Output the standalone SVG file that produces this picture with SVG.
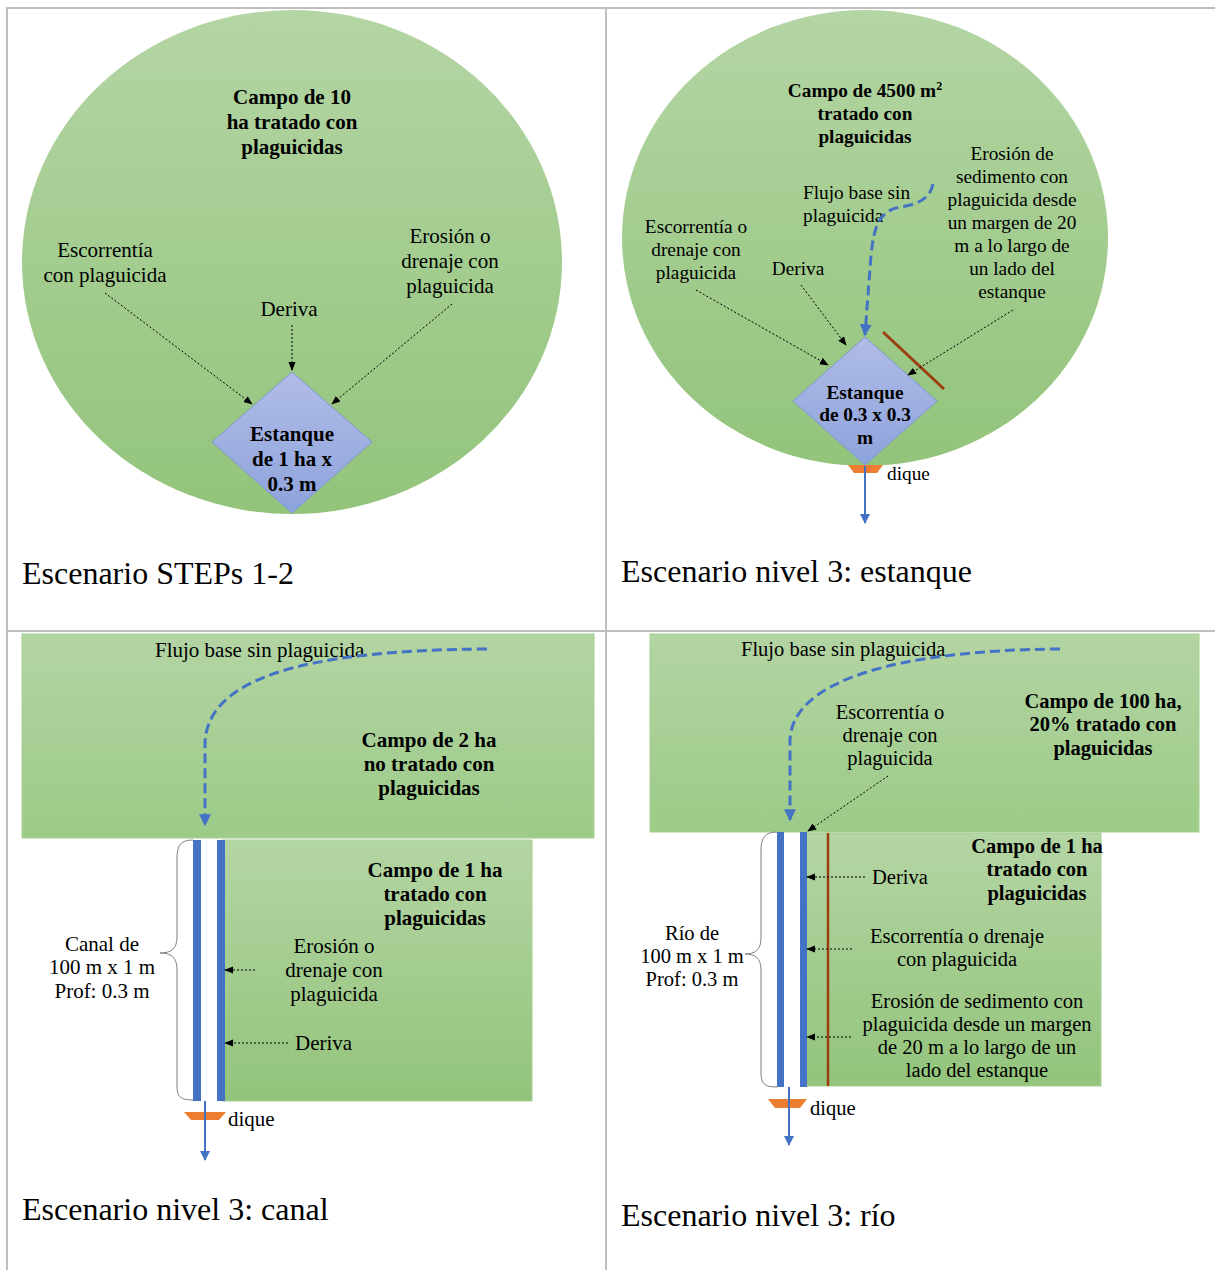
<svg xmlns="http://www.w3.org/2000/svg" width="1215" height="1270" viewBox="0 0 1215 1270">
  <defs>
    <linearGradient id="field" x1="0" y1="0" x2="0" y2="1">
      <stop offset="0" stop-color="#b4d5a4"/>
      <stop offset="1" stop-color="#93c47b"/>
    </linearGradient>
    <linearGradient id="fieldSoft" x1="0" y1="0" x2="0" y2="1">
      <stop offset="0" stop-color="#b3d4a3"/>
      <stop offset="1" stop-color="#9dcb88"/>
    </linearGradient>
    <linearGradient id="pond" x1="0" y1="0" x2="0" y2="1">
      <stop offset="0" stop-color="#b0bce6"/>
      <stop offset="1" stop-color="#8ea3dc"/>
    </linearGradient>
    <marker id="arrowBlue" viewBox="0 0 10 10" refX="9" refY="5" markerWidth="4" markerHeight="4" orient="auto" markerUnits="strokeWidth">
      <path d="M0,0 L10,5 L0,10 z" fill="#4472c4"/>
    </marker>
    <marker id="arrowBlueThin" viewBox="0 0 10 10" refX="9" refY="5" markerWidth="5" markerHeight="5" orient="auto" markerUnits="strokeWidth">
      <path d="M0,0 L10,5 L0,10 z" fill="#4472c4"/>
    </marker>
    <marker id="arrowBlack" viewBox="0 0 10 10" refX="9" refY="5" markerWidth="9" markerHeight="9" orient="auto" markerUnits="strokeWidth">
      <path d="M0,1 L10,5 L0,9 z" fill="#000"/>
    </marker>
  </defs>
  <style>
    .grid { stroke: #bfbfbf; stroke-width: 2; fill: none; }
    .fieldbox { stroke: #a6cf90; stroke-width: 1; }
    .pondshape { fill: url(#pond); stroke: #7f98d6; stroke-width: 1; }
    .t { font-family: "Liberation Serif", "Times New Roman", serif; fill: #000; }
    .c { text-anchor: middle; }
    .s1 { font-size: 21px; }
    .s2 { font-size: 19.3px; }
    .s3 { font-size: 21px; }
    .s4 { font-size: 20.5px; }
    .bold { font-weight: bold; }
    .cap { font-size: 32px; }
    .dot { stroke: #000; stroke-width: 1; stroke-dasharray: 2 2; fill: none; marker-end: url(#arrowBlack); }
    .flow { stroke: #4472c4; stroke-width: 3; stroke-dasharray: 10 5; fill: none; marker-end: url(#arrowBlue); }
    .outlet { stroke: #4472c4; stroke-width: 2; fill: none; marker-end: url(#arrowBlueThin); }
    .bank { fill: #4472c4; }
    .buffer { stroke: #9c3f0f; stroke-width: 3; fill: none; }
    .dike { fill: #ed7d31; }
    .brace { stroke: #7f7f7f; stroke-width: 1; fill: none; }
  </style>

  <!-- table grid -->
  <g id="table">
    <line class="grid" x1="6" y1="8" x2="1215" y2="8"/>
    <line class="grid" x1="7" y1="8" x2="7" y2="1270"/>
    <line class="grid" x1="606" y1="8" x2="606" y2="1270"/>
    <line class="grid" x1="6" y1="631" x2="1215" y2="631"/>
  </g>

  <!-- ===== Scenario STEPs 1-2 ===== -->
  <g id="field-steps">
    <ellipse cx="292" cy="262" rx="270" ry="252" fill="url(#field)"/>
    <text class="t s1 c bold" x="292" y="104">Campo de 10</text>
    <text class="t s1 c bold" x="292" y="129">ha tratado con</text>
    <text class="t s1 c bold" x="292" y="154">plaguicidas</text>
  </g>
  <g id="pond-steps">
    <polygon class="pondshape" points="292,372 372,442 292,513 212,442"/>
    <text class="t s1 c bold" x="292" y="441">Estanque</text>
    <text class="t s1 c bold" x="292" y="466">de 1 ha x</text>
    <text class="t s1 c bold" x="292" y="491">0.3 m</text>
  </g>
  <g id="labels-steps">
    <text class="t s1 c" x="105" y="257">Escorrentía</text>
    <text class="t s1 c" x="105" y="282">con plaguicida</text>
    <text class="t s1 c" x="289" y="316">Deriva</text>
    <text class="t s1 c" x="450" y="243">Erosión o</text>
    <text class="t s1 c" x="450" y="268">drenaje con</text>
    <text class="t s1 c" x="450" y="293">plaguicida</text>
  </g>

  <!-- ===== Scenario level 3: pond ===== -->
  <g id="field-pond">
    <ellipse cx="865" cy="238" rx="243" ry="228" fill="url(#field)"/>
    <text class="t s2 c bold" x="865" y="97">Campo de 4500 m<tspan font-size="12" dy="-7">2</tspan></text>
    <text class="t s2 c bold" x="865" y="120">tratado con</text>
    <text class="t s2 c bold" x="865" y="143">plaguicidas</text>
  </g>
  <g id="buffer-pond">
    <line class="buffer" x1="883" y1="332" x2="944" y2="389"/>
  </g>
  <g id="pond-pond">
    <polygon class="pondshape" points="865,337 937,401 865,465 793,401"/>
    <text class="t s2 c bold" x="865" y="399">Estanque</text>
    <text class="t s2 c bold" x="865" y="421">de 0.3 x 0.3</text>
    <text class="t s2 c bold" x="865" y="444">m</text>
  </g>
  <g id="dike-pond">
    <polygon class="dike" points="848,465 883,465 877,473 854,473"/>
    <text class="t s2" x="887" y="480">dique</text>
  </g>
  <g id="labels-pond">
    <text class="t s2" x="803" y="199">Flujo base sin</text>
    <text class="t s2" x="803" y="222">plaguicida</text>
    <text class="t s2 c" x="696" y="233">Escorrentía o</text>
    <text class="t s2 c" x="696" y="256">drenaje con</text>
    <text class="t s2 c" x="696" y="279">plaguicida</text>
    <text class="t s2 c" x="798" y="275">Deriva</text>
    <text class="t s2 c" x="1012" y="160">Erosión de</text>
    <text class="t s2 c" x="1012" y="183">sedimento con</text>
    <text class="t s2 c" x="1012" y="206">plaguicida desde</text>
    <text class="t s2 c" x="1012" y="229">un margen de 20</text>
    <text class="t s2 c" x="1012" y="252">m a lo largo de</text>
    <text class="t s2 c" x="1012" y="275">un lado del</text>
    <text class="t s2 c" x="1012" y="298">estanque</text>
  </g>

  <!-- ===== Scenario level 3: canal ===== -->
  <g id="field-canal-upper">
    <rect class="fieldbox" x="22" y="634" width="572" height="204" fill="url(#fieldSoft)"/>
    <text class="t s3" x="155" y="657">Flujo base sin plaguicida</text>
    <text class="t s3 c bold" x="429" y="747">Campo de 2 ha</text>
    <text class="t s3 c bold" x="429" y="771">no tratado con</text>
    <text class="t s3 c bold" x="429" y="795">plaguicidas</text>
  </g>
  <g id="field-canal-lower">
    <rect class="fieldbox" x="222" y="840" width="310" height="261" fill="url(#field)"/>
    <text class="t s3 c bold" x="435" y="877">Campo de 1 ha</text>
    <text class="t s3 c bold" x="435" y="901">tratado con</text>
    <text class="t s3 c bold" x="435" y="925">plaguicidas</text>
    <text class="t s3 c" x="334" y="953">Erosión o</text>
    <text class="t s3 c" x="334" y="977">drenaje con</text>
    <text class="t s3 c" x="334" y="1001">plaguicida</text>
    <text class="t s3" x="295" y="1050">Deriva</text>
  </g>
  <g id="canal">
    <rect class="bank" x="193" y="840" width="8" height="261"/>
    <rect class="bank" x="217" y="840" width="8" height="261"/>
    <path class="brace" d="M193,840 C181,840 177,845 177,858 L177,937 C177,949 171,953 160,953 C171,953 177,957 177,970 L177,1087 C177,1097 181,1100 193,1100"/>
    <text class="t s3 c" x="102" y="951">Canal de</text>
    <text class="t s3 c" x="102" y="974">100 m x 1 m</text>
    <text class="t s3 c" x="102" y="998">Prof: 0.3 m</text>
  </g>
  <g id="dike-canal">
    <polygon class="dike" points="184,1112 226,1112 219,1120 191,1120"/>
    <text class="t s3" x="228" y="1126">dique</text>
  </g>

  <!-- ===== Scenario level 3: river ===== -->
  <g id="field-river-upper">
    <rect class="fieldbox" x="650" y="634" width="549" height="198" fill="url(#fieldSoft)"/>
    <text class="t s4" x="741" y="656">Flujo base sin plaguicida</text>
    <text class="t s4 c" x="890" y="719">Escorrentía o</text>
    <text class="t s4 c" x="890" y="742">drenaje con</text>
    <text class="t s4 c" x="890" y="765">plaguicida</text>
    <text class="t s4 c bold" x="1103" y="708">Campo de 100 ha,</text>
    <text class="t s4 c bold" x="1103" y="731">20% tratado con</text>
    <text class="t s4 c bold" x="1103" y="755">plaguicidas</text>
  </g>
  <g id="field-river-lower">
    <rect class="fieldbox" x="806" y="833" width="295" height="253" fill="url(#field)"/>
    <text class="t s4 c bold" x="1037" y="853">Campo de 1 ha</text>
    <text class="t s4 c bold" x="1037" y="876">tratado con</text>
    <text class="t s4 c bold" x="1037" y="900">plaguicidas</text>
    <text class="t s4" x="872" y="884">Deriva</text>
    <text class="t s4 c" x="957" y="943">Escorrentía o drenaje</text>
    <text class="t s4 c" x="957" y="966">con plaguicida</text>
    <text class="t s4 c" x="977" y="1008">Erosión de sedimento con</text>
    <text class="t s4 c" x="977" y="1031">plaguicida desde un margen</text>
    <text class="t s4 c" x="977" y="1054">de 20 m a lo largo de un</text>
    <text class="t s4 c" x="977" y="1077">lado del estanque</text>
  </g>
  <g id="river">
    <rect class="bank" x="777" y="832" width="7" height="255"/>
    <rect class="bank" x="800" y="832" width="7" height="255"/>
    <line class="buffer" x1="828" y1="833" x2="828" y2="1086" style="stroke-width:2.5"/>
    <path class="brace" d="M777,832 C765,832 761,838 761,850 L761,938 C761,950 755,954 745,954 C755,954 761,958 761,970 L761,1073 C761,1084 765,1087 777,1087"/>
    <text class="t s4 c" x="692" y="940">Río de</text>
    <text class="t s4 c" x="692" y="963">100 m x 1 m</text>
    <text class="t s4 c" x="692" y="986">Prof: 0.3 m</text>
  </g>
  <g id="dike-river">
    <polygon class="dike" points="768,1099 807,1099 800,1108 775,1108"/>
    <text class="t s4" x="810" y="1115">dique</text>
  </g>

  <!-- scenario captions -->
  <g id="captions">
    <text class="t cap" x="22" y="584">Escenario STEPs 1-2</text>
    <text class="t cap" x="621" y="582">Escenario nivel 3: estanque</text>
    <text class="t cap" x="22" y="1220">Escenario nivel 3: canal</text>
    <text class="t cap" x="621" y="1226">Escenario nivel 3: río</text>
  </g>

  <!-- connectors -->
  <g id="connectors">
    <!-- STEPs 1-2 -->
    <line class="dot" x1="105" y1="293" x2="252" y2="404"/>
    <line class="dot" x1="292" y1="325" x2="292" y2="370"/>
    <line class="dot" x1="452" y1="304" x2="332" y2="404"/>
    <!-- pond -->
    <path class="flow" d="M933,184 C930,200 915,205 900,207 C878,211 874,228 871,255 L865,335"/>
    <line class="dot" x1="696" y1="290" x2="828" y2="365"/>
    <line class="dot" x1="801" y1="285" x2="846" y2="345"/>
    <line class="dot" x1="1013" y1="310" x2="908" y2="375"/>
    <line class="outlet" x1="865" y1="466" x2="865" y2="523"/>
    <!-- canal -->
    <path class="flow" d="M487,649 C300,650 205,680 205,745 L205,825"/>
    <line class="dot" x1="255" y1="970" x2="225" y2="970"/>
    <line class="dot" x1="288" y1="1043" x2="225" y2="1043"/>
    <line class="outlet" x1="205" y1="1101" x2="205" y2="1160"/>
    <!-- river -->
    <path class="flow" d="M1060,649 C900,650 792,680 790,740 L790,820"/>
    <line class="dot" x1="888" y1="776" x2="808" y2="831"/>
    <line class="dot" x1="865" y1="877" x2="807" y2="877"/>
    <line class="dot" x1="852" y1="949" x2="807" y2="949"/>
    <line class="dot" x1="851" y1="1037" x2="807" y2="1037"/>
    <line class="outlet" x1="789" y1="1087" x2="789" y2="1145"/>
  </g>
</svg>
